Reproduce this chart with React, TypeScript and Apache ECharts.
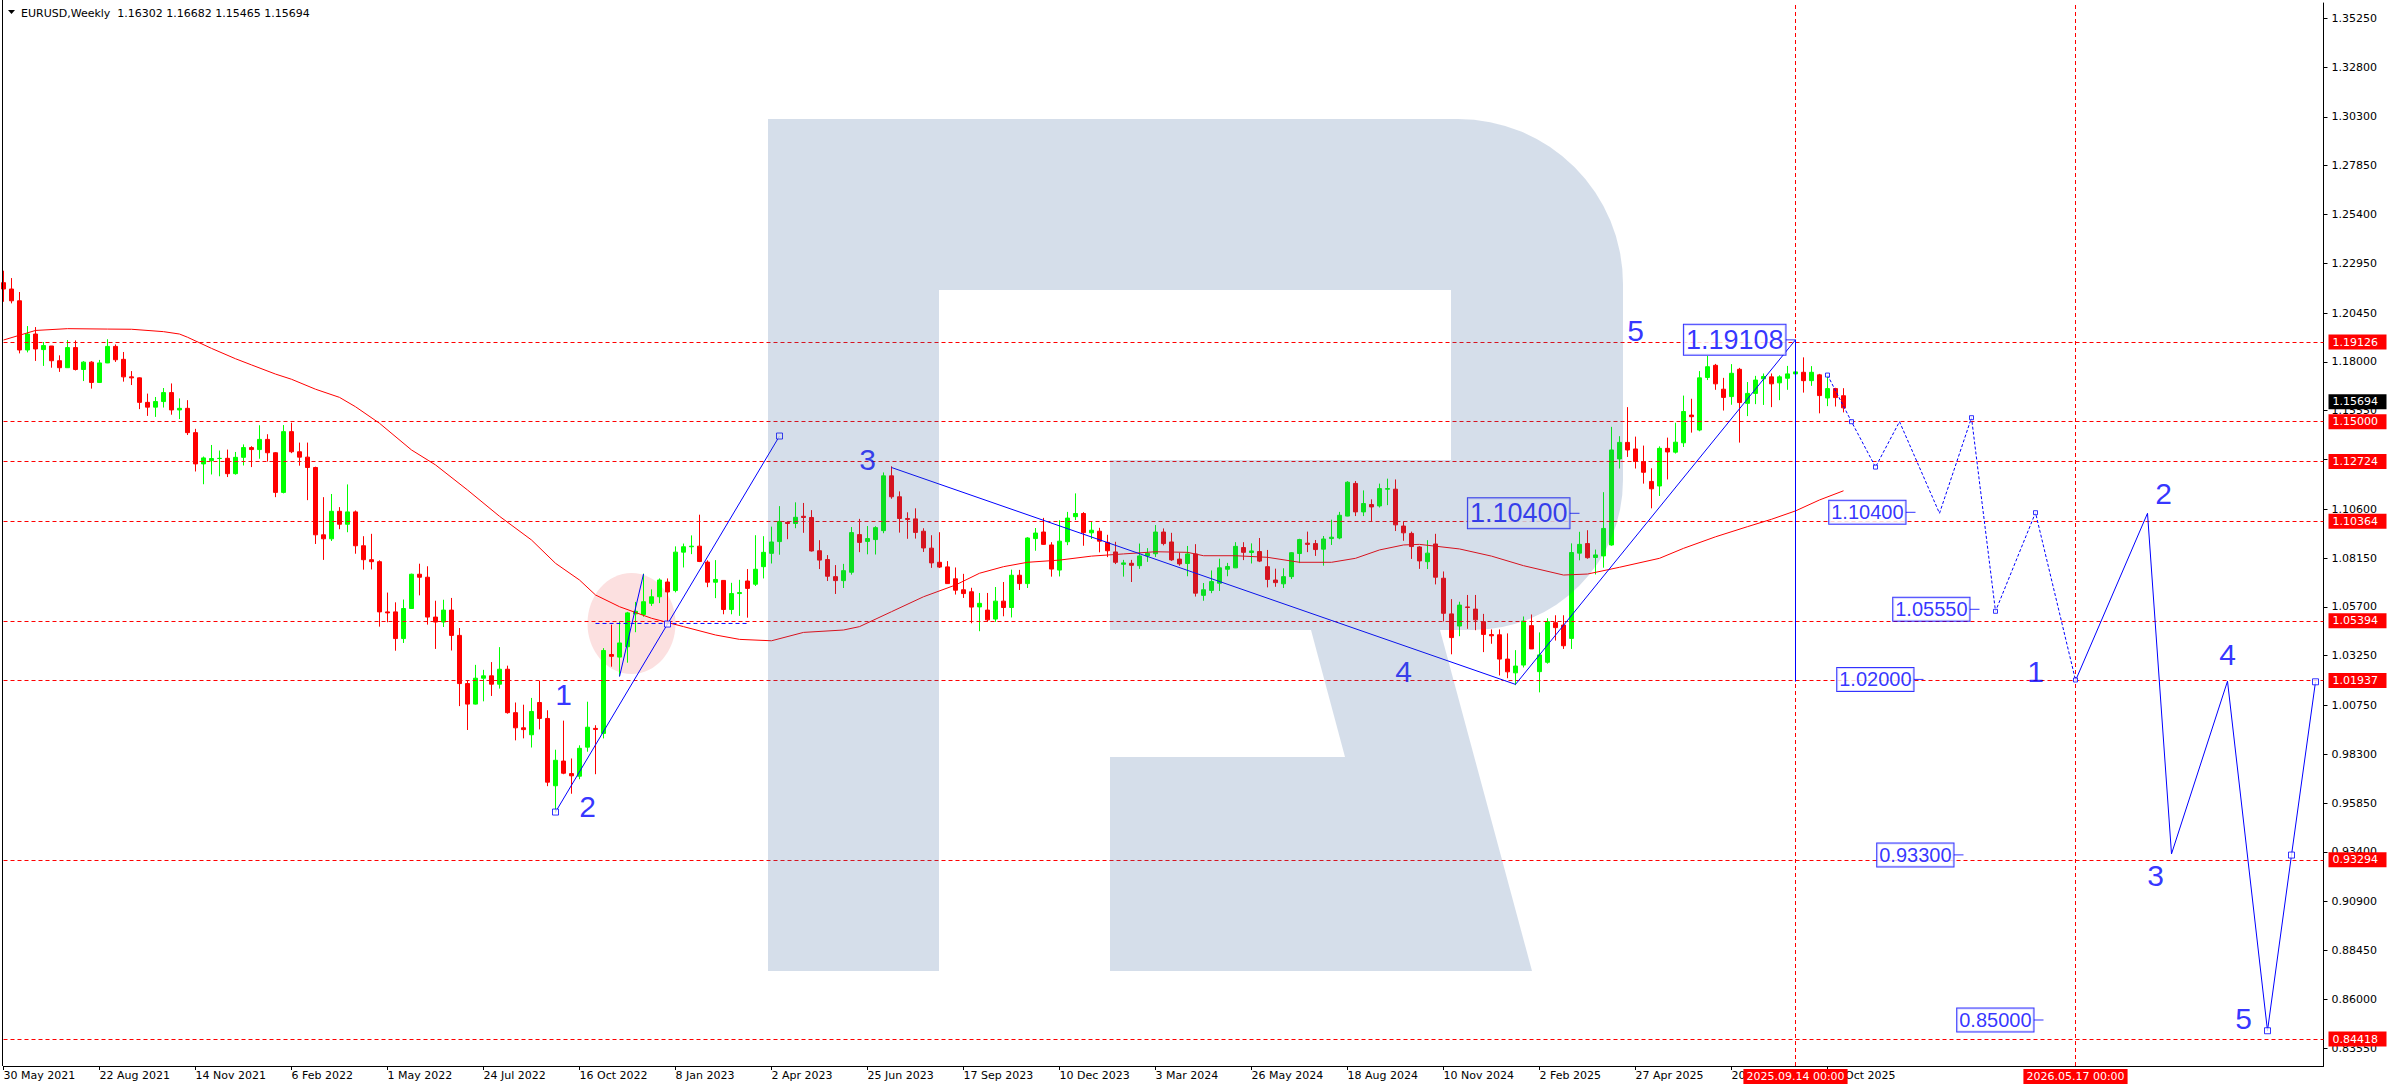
import React, { useEffect, useRef } from "react";
import * as echarts from "echarts";

// ---------- categories (weekly bars, first = 30 May 2021) ----------
const MONTHS = ["Jan", "Feb", "Mar", "Apr", "May", "Jun", "Jul", "Aug", "Sep", "Oct", "Nov", "Dec"];
const START_UTC = Date.UTC(2021, 4, 30);
const N_CATS = 291;
const categories: string[] = Array.from({ length: N_CATS }, (_, i) => {
  const d = new Date(START_UTC + i * 7 * 86400000);
  return `${d.getUTCDate()} ${MONTHS[d.getUTCMonth()]} ${d.getUTCFullYear()}`;
});
const LAST_BAR = 230;

// ---------- OHLC (weekly) ----------
const opens = [
  1.2198, 1.2166, 1.2107, 1.1860, 1.1940, 1.1862, 1.1880, 1.1806, 1.1771, 1.1872,
  1.1762, 1.1799, 1.1697, 1.1795, 1.1878, 1.1813, 1.1725, 1.1720, 1.1597, 1.1573,
  1.1601, 1.1646, 1.1559, 1.1567, 1.1445, 1.1288, 1.1305, 1.1315, 1.1316, 1.1239,
  1.1321, 1.1370, 1.1360, 1.1411, 1.1344, 1.1145, 1.1450, 1.1349, 1.1322, 1.1270,
  1.0932, 1.0912, 1.1050, 1.0985, 1.1047, 1.0877, 1.0807, 1.0797, 1.0545, 1.0545,
  1.0411, 1.0562, 1.0734, 1.0719, 1.0519, 1.0494, 1.0554, 1.0427, 1.0185, 1.0082,
  1.0212, 1.0224, 1.0182, 1.0257, 1.0039, 0.9963, 0.9928, 1.0090, 1.0010, 0.9672,
  0.9796, 0.9733, 0.9720, 0.9866, 0.9960, 0.9935, 1.0331, 1.0318, 1.0370, 1.0535,
  1.0532, 1.0588, 1.0621, 1.0695, 1.0652, 1.0845, 1.0872, 1.0875, 1.0795, 1.0694,
  1.0703, 1.0557, 1.0637, 1.0700, 1.0684, 1.0772, 1.0839, 1.0898, 1.0995, 1.0989,
  1.1025, 1.1019, 1.0852, 1.0808, 1.0722, 1.0702, 1.0744, 1.0933, 1.0899, 1.0908,
  1.0953, 1.1228, 1.1123, 1.1014, 1.1012, 1.0950, 1.0865, 1.0794, 1.0771, 1.0711,
  1.0656, 1.0646, 1.0570, 1.0554, 1.0509, 1.0599, 1.0567, 1.0729, 1.0687, 1.0913,
  1.0946, 1.0881, 1.0755, 1.0897, 1.1023, 1.1039, 1.0942, 1.0950, 1.0894, 1.0846,
  1.0784, 1.0789, 1.0777, 1.0826, 1.0837, 1.0946, 1.0896, 1.0810, 1.0788, 1.0836,
  1.0628, 1.0653, 1.0689, 1.0759, 1.0766, 1.0868, 1.0843, 1.0848, 1.0772, 1.0705,
  1.0686, 1.0722, 1.0838, 1.0890, 1.0888, 1.0860, 1.0913, 1.0916, 1.1026, 1.1190,
  1.1047, 1.1084, 1.1077, 1.1161, 1.1161, 1.0976, 1.0939, 1.0871, 1.0797, 1.0886,
  1.0714, 1.0535, 1.0474, 1.0570, 1.0559, 1.0496, 1.0431, 1.0430, 1.0308, 1.0239,
  1.0278, 1.0476, 1.0245, 1.0292, 1.0491, 1.0479, 1.0412, 1.0840, 1.0888, 1.0818,
  1.0826, 1.0881, 1.1313, 1.1396, 1.1363, 1.1300, 1.1200, 1.1177, 1.1366, 1.1347,
  1.1394, 1.1533, 1.1458, 1.1722, 1.1783, 1.1663, 1.1626, 1.1763, 1.1592, 1.1642,
  1.1715, 1.1725, 1.1695, 1.1718, 1.1740, 1.1748, 1.1706, 1.1735, 1.1619, 1.1666,
  1.16302,
];
const highs = [
  1.2258, 1.2221, 1.2151, 1.1980, 1.1975, 1.1900, 1.1880, 1.1833, 1.1910, 1.1908,
  1.1804, 1.1804, 1.1810, 1.1914, 1.1888, 1.1850, 1.1754, 1.1722, 1.1641, 1.1624,
  1.1669, 1.1692, 1.1617, 1.1608, 1.1464, 1.1325, 1.1383, 1.1355, 1.1360, 1.1348,
  1.1386, 1.1377, 1.1482, 1.1437, 1.1347, 1.1483, 1.1495, 1.1395, 1.1395, 1.1274,
  1.1121, 1.1137, 1.1071, 1.1185, 1.1054, 1.0925, 1.0937, 1.0804, 1.0642, 1.0593,
  1.0607, 1.0737, 1.0787, 1.0774, 1.0601, 1.0606, 1.0615, 1.0464, 1.0200, 1.0279,
  1.0254, 1.0293, 1.0368, 1.0275, 1.0090, 1.0079, 1.0113, 1.0198, 1.0051, 0.9853,
  0.9999, 0.9809, 0.9875, 1.0094, 0.9976, 1.0363, 1.0481, 1.0497, 1.0545, 1.0595,
  1.0737, 1.0658, 1.0713, 1.0713, 1.0874, 1.0888, 1.0929, 1.1033, 1.0804, 1.0805,
  1.0705, 1.0691, 1.0706, 1.0760, 1.0930, 1.0925, 1.0973, 1.1076, 1.1000, 1.1095,
  1.1092, 1.1056, 1.0905, 1.0830, 1.0780, 1.0786, 1.0971, 1.1012, 1.0976, 1.0975,
  1.1245, 1.1276, 1.1150, 1.1045, 1.1065, 1.0965, 1.0930, 1.0945, 1.0800, 1.0768,
  1.0736, 1.0666, 1.0640, 1.0640, 1.0670, 1.0695, 1.0757, 1.0756, 1.0920, 1.0966,
  1.1017, 1.0895, 1.1005, 1.1047, 1.1140, 1.1046, 1.1000, 1.0967, 1.0932, 1.0897,
  1.0806, 1.0806, 1.0888, 1.0865, 1.0981, 1.0964, 1.0942, 1.0842, 1.0876, 1.0885,
  1.0690, 1.0753, 1.0812, 1.0791, 1.0895, 1.0895, 1.0889, 1.0916, 1.0856, 1.0762,
  1.0764, 1.0845, 1.0912, 1.0948, 1.0906, 1.0926, 1.1008, 1.1047, 1.1201, 1.1202,
  1.1155, 1.1110, 1.1189, 1.1214, 1.1210, 1.1000, 1.0948, 1.0875, 1.0905, 1.0937,
  1.0748, 1.0609, 1.0596, 1.0630, 1.0630, 1.0535, 1.0457, 1.0457, 1.0437, 1.0353,
  1.0522, 1.0532, 1.0442, 1.0513, 1.0528, 1.0528, 1.0889, 1.0947, 1.0955, 1.0858,
  1.1146, 1.1474, 1.1427, 1.1573, 1.1425, 1.1380, 1.1266, 1.1376, 1.1420, 1.1495,
  1.1631, 1.1615, 1.1754, 1.1830, 1.1790, 1.1720, 1.1789, 1.1770, 1.1699, 1.1730,
  1.1742, 1.1742, 1.1733, 1.1780, 1.19108, 1.1823, 1.1779, 1.1740, 1.1728, 1.1670,
  1.16682,
];
const lows = [
  1.2102, 1.2094, 1.1843, 1.1848, 1.1805, 1.1780, 1.1771, 1.1750, 1.1770, 1.1757,
  1.1704, 1.1666, 1.1694, 1.1794, 1.1800, 1.1701, 1.1684, 1.1563, 1.1529, 1.1524,
  1.1571, 1.1535, 1.1513, 1.1433, 1.1250, 1.1186, 1.1235, 1.1226, 1.1222, 1.1234,
  1.1280, 1.1272, 1.1314, 1.1300, 1.1121, 1.1140, 1.1342, 1.1279, 1.1106, 1.0886,
  1.0806, 1.0901, 1.0960, 1.0945, 1.0837, 1.0757, 1.0758, 1.0471, 1.0493, 1.0350,
  1.0389, 1.0560, 1.0628, 1.0481, 1.0359, 1.0469, 1.0351, 1.0072, 0.9952, 1.0080,
  1.0096, 1.0123, 1.0160, 1.0034, 0.9900, 0.9910, 0.9864, 0.9955, 0.9670, 0.9536,
  0.9730, 0.9632, 0.9705, 0.9843, 0.9730, 0.9910, 1.0270, 1.0223, 1.0290, 1.0443,
  1.0521, 1.0575, 1.0589, 1.0483, 1.0643, 1.0768, 1.0835, 1.0795, 1.0669, 1.0614,
  1.0533, 1.0533, 1.0525, 1.0516, 1.0675, 1.0713, 1.0788, 1.0832, 1.0910, 1.0965,
  1.0942, 1.0848, 1.0760, 1.0700, 1.0635, 1.0665, 1.0732, 1.0845, 1.0834, 1.0833,
  1.0940, 1.1113, 1.0943, 1.0912, 1.0913, 1.0846, 1.0766, 1.0765, 1.0686, 1.0632,
  1.0615, 1.0488, 1.0448, 1.0495, 1.0495, 1.0523, 1.0517, 1.0655, 1.0665, 1.0852,
  1.0882, 1.0722, 1.0723, 1.0880, 1.1006, 1.0877, 1.0911, 1.0844, 1.0820, 1.0785,
  1.0722, 1.0695, 1.0761, 1.0796, 1.0821, 1.0879, 1.0801, 1.0777, 1.0724, 1.0622,
  1.0601, 1.0639, 1.0650, 1.0724, 1.0765, 1.0805, 1.0788, 1.0795, 1.0668, 1.0671,
  1.0665, 1.0710, 1.0790, 1.0845, 1.0826, 1.0777, 1.0881, 1.0910, 1.1025, 1.1026,
  1.1026, 1.1001, 1.1069, 1.1081, 1.0951, 1.0902, 1.0811, 1.0761, 1.0760, 1.0683,
  1.0497, 1.0332, 1.0423, 1.0460, 1.0453, 1.0343, 1.0385, 1.0226, 1.0212, 1.0177,
  1.0266, 1.0359, 1.0141, 1.0285, 1.0401, 1.0359, 1.0359, 1.0804, 1.0812, 1.0733,
  1.0767, 1.0877, 1.1265, 1.1323, 1.1265, 1.1189, 1.1065, 1.1127, 1.1210, 1.1340,
  1.1373, 1.1445, 1.1452, 1.1709, 1.1660, 1.1556, 1.1585, 1.1395, 1.1528, 1.1588,
  1.1584, 1.1573, 1.1608, 1.1660, 1.1727, 1.1646, 1.1680, 1.1542, 1.1578, 1.1576,
  1.15465,
];
const closes = [
  1.2166, 1.2107, 1.1860, 1.1940, 1.1865, 1.1882, 1.1806, 1.1771, 1.1872, 1.1762,
  1.1799, 1.1697, 1.1795, 1.1878, 1.1811, 1.1725, 1.1720, 1.1597, 1.1573, 1.1601,
  1.1646, 1.1559, 1.1567, 1.1445, 1.1288, 1.1318, 1.1315, 1.1316, 1.1239, 1.1321,
  1.1370, 1.1360, 1.1411, 1.1344, 1.1145, 1.1450, 1.1349, 1.1322, 1.1270, 1.0932,
  1.0912, 1.1050, 1.0985, 1.1047, 1.0877, 1.0807, 1.0797, 1.0545, 1.0540, 1.0411,
  1.0562, 1.0734, 1.0719, 1.0519, 1.0494, 1.0554, 1.0427, 1.0185, 1.0082, 1.0212,
  1.0224, 1.0182, 1.0257, 1.0039, 0.9963, 0.9954, 1.0045, 1.0010, 0.9690, 0.9800,
  0.9735, 0.9722, 0.9860, 0.9966, 0.9955, 1.0351, 1.0322, 1.0389, 1.0540, 1.0548,
  1.0596, 1.0621, 1.0705, 1.0645, 1.0845, 1.0872, 1.0875, 1.0798, 1.0694, 1.0708,
  1.0557, 1.0637, 1.0642, 1.0663, 1.0759, 1.0844, 1.0896, 1.0999, 1.0989, 1.1020,
  1.1019, 1.0851, 1.0805, 1.0724, 1.0702, 1.0752, 1.0943, 1.0894, 1.0913, 1.0968,
  1.1228, 1.1123, 1.1014, 1.1009, 1.0944, 1.0866, 1.0791, 1.0770, 1.0687, 1.0654,
  1.0637, 1.0569, 1.0588, 1.0505, 1.0599, 1.0567, 1.0729, 1.0687, 1.0916, 1.0941,
  1.0884, 1.0760, 1.0900, 1.1016, 1.1039, 1.0943, 1.0955, 1.0900, 1.0852, 1.0794,
  1.0791, 1.0779, 1.0826, 1.0839, 1.0946, 1.0888, 1.0806, 1.0786, 1.0836, 1.0639,
  1.0656, 1.0697, 1.0766, 1.0773, 1.0874, 1.0844, 1.0851, 1.0800, 1.0708, 1.0692,
  1.0722, 1.0842, 1.0908, 1.0884, 1.0858, 1.0911, 1.0920, 1.1030, 1.1196, 1.1047,
  1.1089, 1.1072, 1.1164, 1.1164, 1.0982, 1.0942, 1.0873, 1.0801, 1.0840, 1.0719,
  1.0538, 1.0416, 1.0579, 1.0567, 1.0505, 1.0432, 1.0425, 1.0308, 1.0244, 1.0273,
  1.0499, 1.0359, 1.0329, 1.0496, 1.0466, 1.0375, 1.0843, 1.0884, 1.0817, 1.0831,
  1.0964, 1.1358, 1.1396, 1.1358, 1.1300, 1.1246, 1.1163, 1.1366, 1.1348, 1.1397,
  1.1551, 1.1525, 1.1720, 1.1776, 1.1690, 1.1622, 1.1743, 1.1596, 1.1642, 1.1709,
  1.1727, 1.1690, 1.1725, 1.1740, 1.1750, 1.1706, 1.1748, 1.1631, 1.1666, 1.1621,
  1.15694,
];

// ---------- moving average ([bar, value]) ----------
const maPoints = [
  [0, 1.1910], [4, 1.1958], [8, 1.1967], [13, 1.1965], [16, 1.1964], [20, 1.1952], [22, 1.1940],
  [23, 1.1924], [26, 1.1868], [29, 1.1816], [31, 1.1785], [34, 1.1739], [36, 1.1713], [39, 1.1663],
  [42, 1.1622], [44, 1.1575], [47, 1.1492], [51, 1.1358], [54, 1.1283], [58, 1.1157], [62, 1.1025],
  [66, 1.0906], [69, 1.0789], [72, 1.0705], [74, 1.0630], [77, 1.0571], [81, 1.0513], [85, 1.0471],
  [89, 1.0429], [92, 1.0407], [96, 1.0400], [100, 1.0442], [105, 1.0454], [107, 1.0471], [111, 1.0546],
  [115, 1.0621], [119, 1.0680], [122, 1.0739], [125, 1.0772], [128, 1.0794], [132, 1.0805], [136, 1.0825],
  [140, 1.0836], [144, 1.0847], [148, 1.0844], [150, 1.0827], [154, 1.0827], [158, 1.0819], [162, 1.0794],
  [166, 1.0794], [169, 1.0814], [172, 1.0856], [175, 1.0881], [177, 1.0884], [182, 1.0861], [186, 1.0825],
  [190, 1.0777], [195, 1.0730], [198, 1.0735], [202, 1.0769], [207, 1.0814], [210, 1.0864], [214, 1.0922],
  [218, 1.0973], [221, 1.1010], [224, 1.1052], [227, 1.1107], [230, 1.1153],
];

// ---------- levels ----------
const redLevels = [1.19126, 1.15, 1.12724, 1.10364, 1.05394, 1.01937, 0.93294, 0.84418];
const bidPrice = 1.15694;
const vLineBars = [224, 259];
const vLineTexts = ["2025.09.14 00:00", "2026.05.17 00:00"];
const yTicks = [1.3525, 1.328, 1.303, 1.2785, 1.254, 1.2295, 1.2045, 1.18, 1.1555, 1.131, 1.106,
  1.0815, 1.057, 1.0325, 1.0075, 0.983, 0.9585, 0.934, 0.909, 0.8845, 0.86, 0.8355];

// ---------- drawn objects ----------
const wave2Line = [[69, 0.9540], [83, 1.0484], [97, 1.1428]];
const smallLine = [[77, 1.0220], [80, 1.0735]];
const dashedLevel = [[74, 1.0487], [93, 1.0487]];
const wave345Line = [[111, 1.1270], [189, 1.0181], [224, 1.19108]];
const verticalCut = [[224, 1.19108], [224, 1.0195]];
const dottedPath = [[228, 1.1734], [231, 1.15], [234, 1.1272], [237, 1.15], [242, 1.104], [246, 1.152],
  [249, 1.0548], [254, 1.1043], [259, 1.0203]];
const dottedHandles = [[228, 1.1734], [231, 1.15], [234, 1.1272], [246, 1.152], [249, 1.0548], [254, 1.1043], [259, 1.0203]];
const forecastPath = [[259, 1.0200], [268, 1.104], [271, 0.933], [278, 1.0197], [283, 0.8442], [286, 0.9324], [289, 1.0194]];
const forecastHandles = [[283, 0.8442], [286, 0.9324], [289, 1.0194]];
const ellipseBox = [73, 84, 1.0740, 1.0233];

const waveLabels = [
  [70, 1.0128, "1"], [73, 0.9567, "2"], [108, 1.1308, "3"], [175, 1.0245, "4"], [204, 1.1957, "5"],
  [254, 1.0247, "1"], [270, 1.1137, "2"], [269, 0.9220, "3"], [278, 1.0330, "4"], [280, 0.8501, "5"],
];
const priceBoxes = [
  [224, 1.19108, "1.19108", 27],
  [197, 1.104, "1.10400", 27],
  [239, 1.1045, "1.10400", 20],
  [247, 1.0558, "1.05550", 20],
  [240, 1.0206, "1.02000", 20],
  [245, 0.9325, "0.93300", 20],
  [255, 0.8496, "0.85000", 20],
];

const FONT = "DejaVu Sans";
const ARIAL = "Liberation Sans";
const BLUE = "#0000ff";

const LOGO_D =
  "M768,119 H1458 A165,165 0 0 1 1623,284 V480 A150,150 0 0 1 1473,630 H1440 L1532,971 H1110 V757 H1345 L1311,630 H1110 V460 H1451 V290 H939 V971 H768 Z";
let logoRegistered = false;
function registerLogo() {
  if (logoRegistered) return;
  echarts.graphic.registerShape("rlogo", echarts.graphic.extendPath(LOGO_D, {}) as any);
  logoRegistered = true;
}

function buildOption(): any {
  const candleData = opens.map((o, i) => [o, closes[i], lows[i], highs[i]]);
  const labelInterval = (i: number) => i % 12 === 0 && i <= LAST_BAR;

  const boxLabel = (text: string, bg: string) => ({
    show: true, position: "end", distance: 5, formatter: text, color: "#ffffff",
    backgroundColor: bg, padding: [1, 4, 1, 4], width: 50, fontSize: 11, fontFamily: FONT, lineHeight: 13,
  });
  const markData: any[] = [];
  markData.push({
    yAxis: bidPrice,
    lineStyle: { color: "rgba(0,0,0,0)", width: 1 },
    label: boxLabel(bidPrice.toFixed(5), "#000000"),
  });
  redLevels.forEach((v) => {
    markData.push({
      yAxis: v,
      lineStyle: { color: "#ff0000", type: [4, 3], width: 1 },
      label: boxLabel(v.toFixed(5), "#ff0000"),
    });
  });
  vLineBars.forEach((b, k) => {
    markData.push({
      xAxis: b,
      lineStyle: { color: "#ff0000", type: [4, 3], width: 1 },
      label: {
        show: true, position: "start", distance: 3, formatter: vLineTexts[k], color: "#ffffff",
        backgroundColor: "#ff0000", padding: [1, 3, 1, 3], fontSize: 11, fontFamily: FONT, lineHeight: 13,
      },
    });
  });

  const blueLine = (data: any[], extra: any = {}) => ({
    type: "line", data, z: 6, silent: true, symbol: "none",
    lineStyle: { color: BLUE, width: 1 }, ...extra,
  });
  const handles = (data: any[], size: number) => ({
    type: "scatter", data, z: 7, silent: true, symbol: "rect", symbolSize: size,
    itemStyle: { color: "#ffffff", borderColor: BLUE, borderWidth: 1 },
  });

  return {
    animation: false,
    backgroundColor: "#ffffff",
    grid: { left: 3.5, right: 66.5, top: 3, bottom: 24, containLabel: false },
    xAxis: {
      type: "category", data: categories, boundaryGap: false,
      axisLine: { show: true, lineStyle: { color: "#000", width: 1 } },
      axisTick: { show: true, interval: labelInterval, length: 4, lineStyle: { color: "#000" } },
      axisLabel: { interval: labelInterval, align: "left", margin: 4, color: "#000", fontSize: 11, fontFamily: FONT },
      splitLine: { show: false },
    },
    yAxis: {
      type: "value", position: "right", min: 0.8265, max: 1.36021,
      axisLine: { show: true, lineStyle: { color: "#000", width: 1 } },
      axisTick: { show: true, length: 4, customValues: yTicks, lineStyle: { color: "#000" } },
      axisLabel: {
        customValues: yTicks, formatter: (v: number) => v.toFixed(5), margin: 8,
        color: "#000", fontSize: 11, fontFamily: FONT,
      },
      splitLine: { show: false },
    },
    graphic: [
      { type: "line", shape: { x1: 2.5, y1: 0, x2: 2.5, y2: 1066 }, style: { stroke: "#000", lineWidth: 1 }, silent: true, z: 50 },
      { type: "polygon", shape: { points: [[8, 10], [15, 10], [11.5, 14]] }, style: { fill: "#000" }, silent: true, z: 50 },
      {
        type: "text", x: 21, y: 13, silent: true, z: 50,
        style: { text: "EURUSD,Weekly  1.16302 1.16682 1.15465 1.15694", font: `11px "${FONT}"`, fill: "#000", verticalAlign: "middle" },
      },
      { type: "rlogo", x: 0, y: 0, scaleX: 1, scaleY: 1, silent: true, z: 100, style: { fill: "rgba(51,98,154,0.206)" } },
    ],
    series: [
      {
        type: "custom", z: 1, silent: true, clip: false, data: [ellipseBox],
        encode: { x: [0, 1], y: [2, 3] },
        renderItem: (params: any, api: any) => {
          const p1 = api.coord([api.value(0), api.value(2)]);
          const p2 = api.coord([api.value(1), api.value(3)]);
          return {
            type: "ellipse",
            shape: { cx: (p1[0] + p2[0]) / 2, cy: (p1[1] + p2[1]) / 2, rx: Math.abs(p2[0] - p1[0]) / 2, ry: Math.abs(p2[1] - p1[1]) / 2 },
            style: { fill: "#fce0e0" },
          };
        },
      },
      {
        type: "candlestick", z: 2, data: candleData, barWidth: 5, silent: true,
        itemStyle: { color: "#00ff00", color0: "#ff0000", borderColor: "#00ff00", borderColor0: "#ff0000", borderWidth: 1 },
        markLine: { silent: true, z: 5, symbol: ["none", "none"], animation: false, data: markData },
      },
      { type: "line", data: maPoints, z: 3, silent: true, symbol: "none", lineStyle: { color: "#ff0000", width: 1 } },
      blueLine(wave2Line),
      blueLine(smallLine),
      blueLine(dashedLevel, { lineStyle: { color: BLUE, width: 1, type: [4, 3] } }),
      blueLine(wave345Line),
      blueLine(verticalCut),
      blueLine(dottedPath, { lineStyle: { color: BLUE, width: 1, type: [3, 2] } }),
      blueLine(forecastPath),
      handles(wave2Line, 6),
      handles(dottedHandles, 4),
      handles(forecastHandles, 6),
      {
        type: "scatter", z: 8, silent: true, symbol: "rect", symbolSize: 1,
        itemStyle: { color: "rgba(0,0,0,0)" },
        data: waveLabels.map((w) => ({
          value: [w[0], w[1]],
          label: { show: true, position: "inside", formatter: String(w[2]), color: BLUE, fontSize: 30, fontFamily: ARIAL },
        })),
      },
      {
        type: "scatter", z: 9, silent: true, symbol: "rect", symbolSize: [10, 1], symbolOffset: [-5, 0],
        itemStyle: { color: BLUE },
        data: priceBoxes.map((b) => ({
          value: [b[0], b[1]],
          label: {
            show: true, position: "left", distance: 0, formatter: String(b[2]), color: BLUE,
            fontSize: b[3] as number, fontFamily: ARIAL, lineHeight: (b[3] as number) + 2,
            backgroundColor: "#ffffff", borderColor: BLUE, borderWidth: 1, padding: [1, 2, 0, 2],
          },
        })),
      },
    ],
  };
}

export default function App() {
  const ref = useRef<HTMLDivElement>(null);
  useEffect(() => {
    registerLogo();
    const chart = echarts.init(ref.current as HTMLDivElement, null, { renderer: "svg", width: 2390, height: 1090 });
    chart.setOption(buildOption());
    return () => chart.dispose();
  }, []);
  return (
    <div
      ref={ref}
      style={{ position: "fixed", left: 0, top: 0, width: 2390, height: 1090, background: "#ffffff" }}
    />
  );
}
